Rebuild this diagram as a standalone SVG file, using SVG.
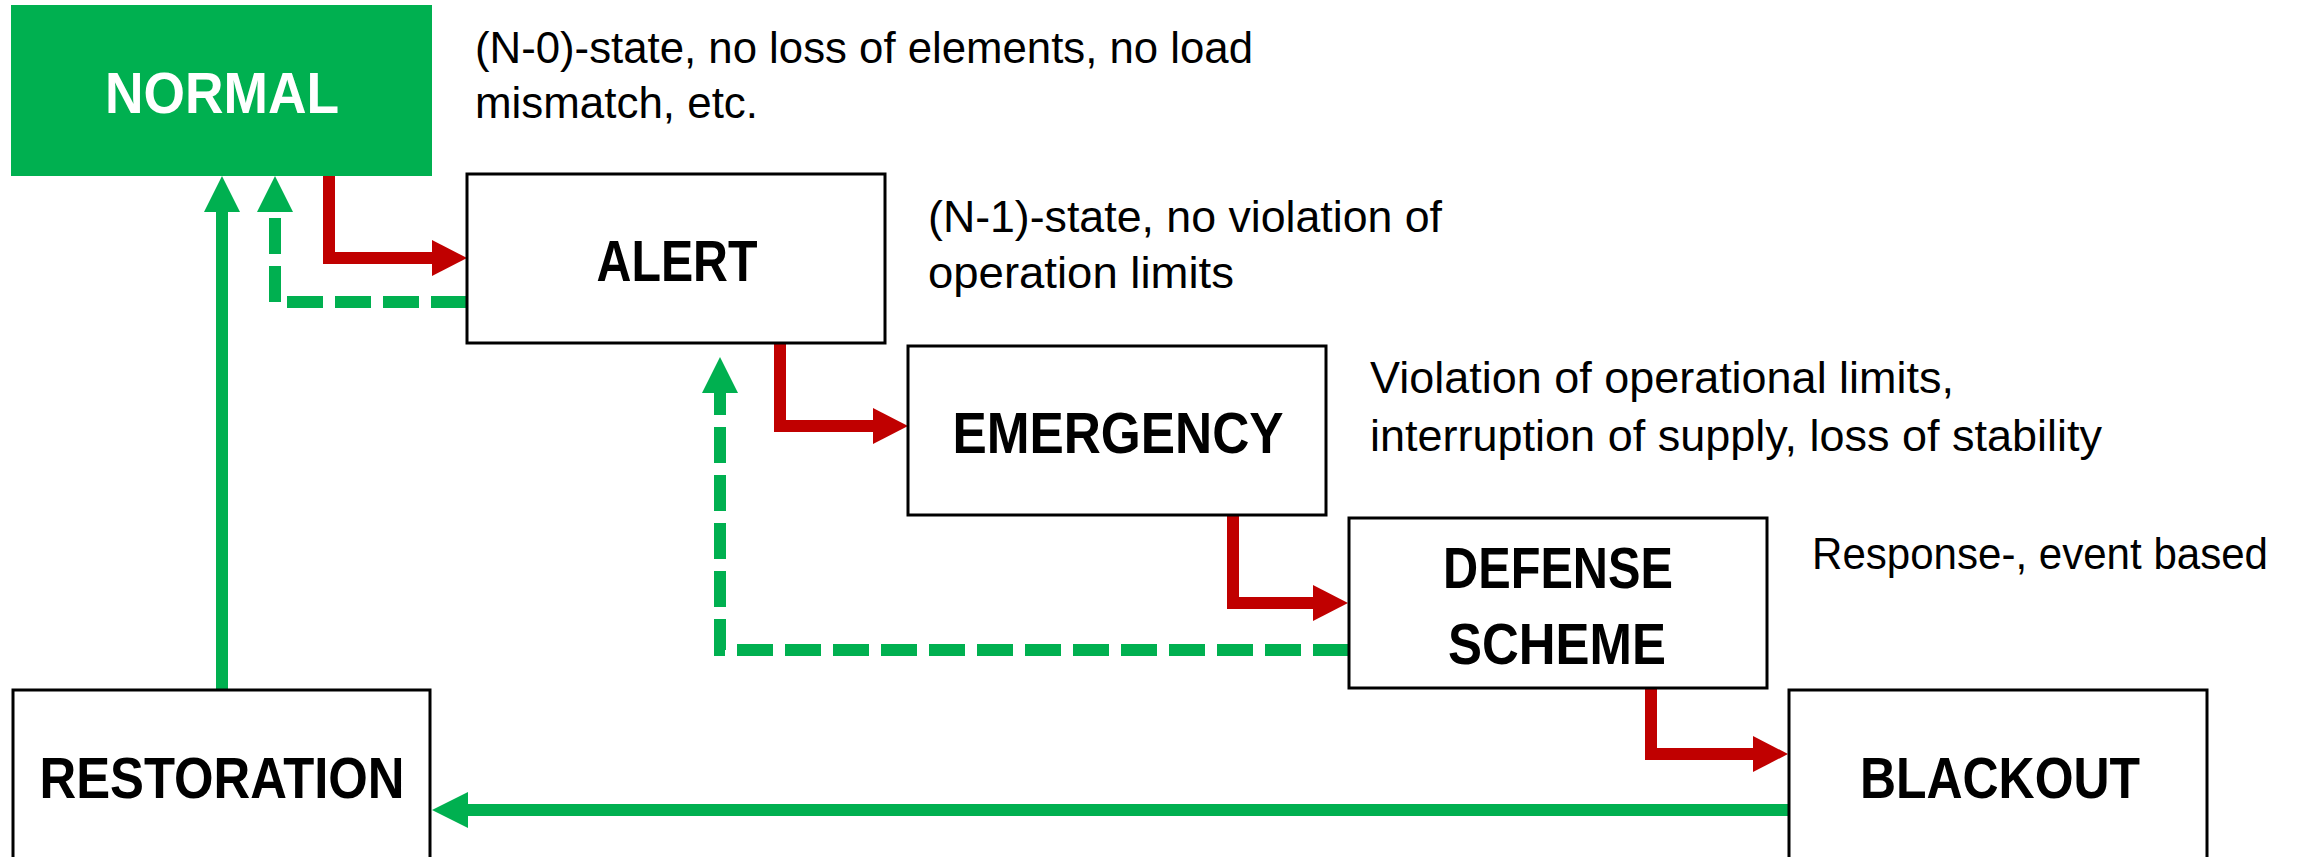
<svg xmlns="http://www.w3.org/2000/svg" width="2297" height="857" viewBox="0 0 2297 857">
  <style>
    .box { fill: #ffffff; stroke: #000000; stroke-width: 3; }
    .box-normal { fill: #00B050; stroke: none; }
    .title { font-family: "Liberation Sans", Arial, sans-serif; font-weight: bold; font-size: 57.5px; fill: #000000; text-anchor: middle; }
    .title-light { fill: #ffffff; }
    .note { font-family: "Liberation Sans", Arial, sans-serif; font-size: 43.5px; fill: #000000; }
    .down { fill: none; stroke: #C00000; stroke-width: 12; stroke-linejoin: miter; }
    .up { fill: none; stroke: #00B050; stroke-width: 12; stroke-linejoin: miter; }
    .up-dash { fill: none; stroke: #00B050; stroke-width: 12; stroke-dasharray: 36 12; }
  </style>
  <defs>
    <marker id="head-red" markerUnits="userSpaceOnUse" markerWidth="36" markerHeight="36" refX="0" refY="18" orient="auto" overflow="visible">
      <path d="M0,0 L35,18 L0,36 Z" fill="#C00000"/>
    </marker>
    <marker id="head-green" markerUnits="userSpaceOnUse" markerWidth="36" markerHeight="36" refX="0" refY="18" orient="auto" overflow="visible">
      <path d="M0,0 L36,18 L0,36 Z" fill="#00B050"/>
    </marker>
  </defs>

  <rect width="2297" height="857" fill="#ffffff"/>

  <!-- state transitions -->
  <g id="connectors">
    <path class="down" d="M329,176 V258 H432" marker-end="url(#head-red)"/>
    <path class="down" d="M780,343 V426 H873" marker-end="url(#head-red)"/>
    <path class="down" d="M1233,514 V603 H1313" marker-end="url(#head-red)"/>
    <path class="down" d="M1651,687 V754 H1753" marker-end="url(#head-red)"/>
    <path class="up" d="M1788,810 H468" marker-end="url(#head-green)"/>
    <path class="up" d="M222,690 V212" marker-end="url(#head-green)"/>
    <path class="up-dash" d="M467,302 H275 V212" marker-end="url(#head-green)"/>
    <path class="up-dash" d="M1349,650 H720 V393" marker-end="url(#head-green)"/>
  </g>

  <g id="node-normal">
    <rect class="box-normal" x="11" y="5" width="421" height="171"/>
    <text class="title title-light" x="222" y="113" textLength="234" lengthAdjust="spacingAndGlyphs">NORMAL</text>
  </g>
  <g id="node-alert">
    <rect class="box" x="467" y="174" width="418" height="169"/>
    <text class="title" x="677" y="281" textLength="161" lengthAdjust="spacingAndGlyphs">ALERT</text>
  </g>
  <g id="node-emergency">
    <rect class="box" x="908" y="346" width="418" height="169"/>
    <text class="title" x="1118" y="453" textLength="331" lengthAdjust="spacingAndGlyphs">EMERGENCY</text>
  </g>
  <g id="node-defense">
    <rect class="box" x="1349" y="518" width="418" height="170"/>
    <text class="title" x="1558" y="588" textLength="230" lengthAdjust="spacingAndGlyphs">DEFENSE</text>
    <text class="title" x="1557" y="664" textLength="218" lengthAdjust="spacingAndGlyphs">SCHEME</text>
  </g>
  <g id="node-blackout">
    <rect class="box" x="1789" y="690" width="418" height="180"/>
    <text class="title" x="2000" y="798" textLength="280" lengthAdjust="spacingAndGlyphs">BLACKOUT</text>
  </g>
  <g id="node-restoration">
    <rect class="box" x="13" y="690" width="417" height="180"/>
    <text class="title" x="222" y="798" textLength="365" lengthAdjust="spacingAndGlyphs">RESTORATION</text>
  </g>

  <!-- state descriptions -->
  <g id="note-normal">
    <text class="note" x="475" y="63" textLength="778" lengthAdjust="spacingAndGlyphs">(N-0)-state, no loss of elements, no load</text>
    <text class="note" x="475" y="118" textLength="283" lengthAdjust="spacingAndGlyphs">mismatch, etc.</text>
  </g>
  <g id="note-alert">
    <text class="note" x="928" y="232" textLength="514" lengthAdjust="spacingAndGlyphs">(N-1)-state, no violation of</text>
    <text class="note" x="928" y="288" textLength="306" lengthAdjust="spacingAndGlyphs">operation limits</text>
  </g>
  <g id="note-emergency">
    <text class="note" x="1370" y="393" textLength="584" lengthAdjust="spacingAndGlyphs">Violation of operational limits,</text>
    <text class="note" x="1370" y="451" textLength="732" lengthAdjust="spacingAndGlyphs">interruption of supply, loss of stability</text>
  </g>
  <g id="note-defense">
    <text class="note" x="1812" y="569" textLength="456" lengthAdjust="spacingAndGlyphs">Response-, event based</text>
  </g>
</svg>
